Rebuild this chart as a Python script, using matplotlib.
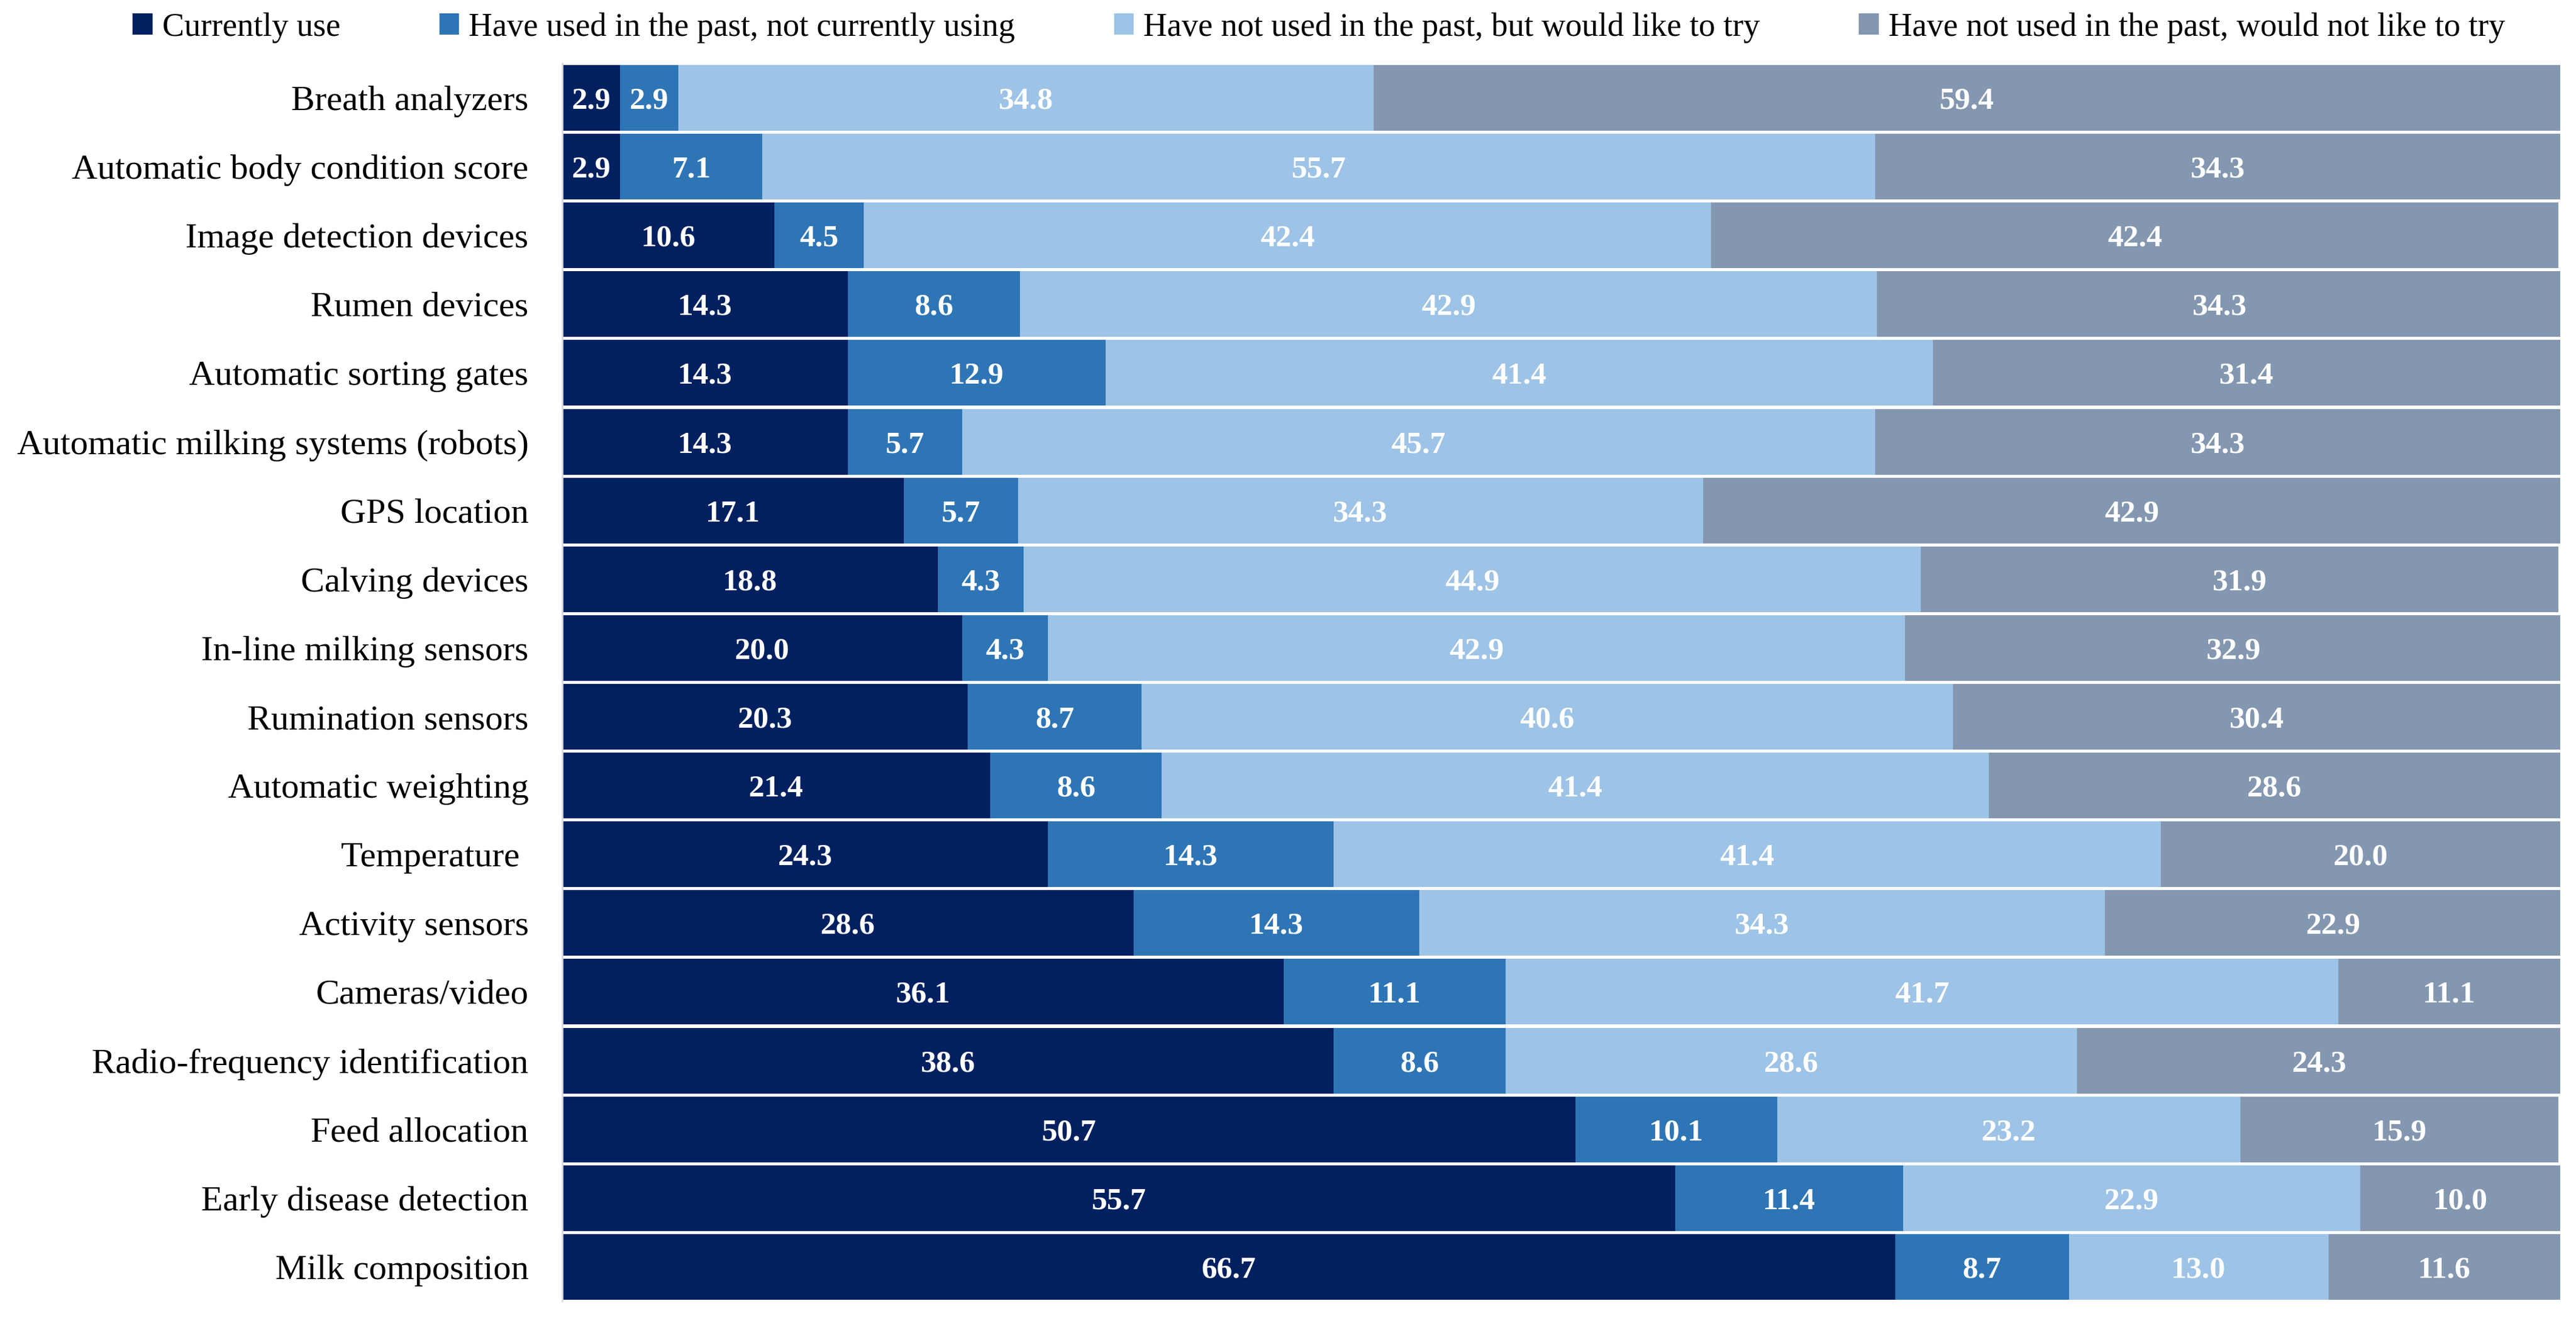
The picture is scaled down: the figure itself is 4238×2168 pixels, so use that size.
import numpy as np
import matplotlib
matplotlib.use('Agg')
import matplotlib.pyplot as plt

categories = ['Breath analyzers', 'Automatic body condition score', 'Image detection devices',
              'Rumen devices', 'Automatic sorting gates', 'Automatic milking systems (robots)',
              'GPS location', 'Calving devices', 'In-line milking sensors', 'Rumination sensors',
              'Automatic weighting', 'Temperature ', 'Activity sensors', 'Cameras/video',
              'Radio-frequency identification', 'Feed allocation', 'Early disease detection',
              'Milk composition']

currently_use = [2.9, 2.9, 10.6, 14.3, 14.3, 14.3, 17.1, 18.8, 20.0, 20.3, 21.4, 24.3, 28.6, 36.1, 38.6, 50.7, 55.7, 66.7]
used_past = [2.9, 7.1, 4.5, 8.6, 12.9, 5.7, 5.7, 4.3, 4.3, 8.7, 8.6, 14.3, 14.3, 11.1, 8.6, 10.1, 11.4, 8.7]
like_to_try = [34.8, 55.7, 42.4, 42.9, 41.4, 45.7, 34.3, 44.9, 42.9, 40.6, 41.4, 41.4, 34.3, 41.7, 28.6, 23.2, 22.9, 13.0]
not_like = [59.4, 34.3, 42.4, 34.3, 31.4, 34.3, 42.9, 31.9, 32.9, 30.4, 28.6, 20.0, 22.9, 11.1, 24.3, 15.9, 10.0, 11.6]

series_names = ['Currently use', 'Have used in the past, not currently using',
                'Have not used in the past, but would like to try',
                'Have not used in the past, would not like to try']
colors = ['#002060', '#2E75B6', '#9DC3E6', '#8497B0']

plt.rcParams['font.family'] = ['Liberation Serif', 'DejaVu Serif']

fig = plt.figure(figsize=(42.38, 21.68), dpi=100)
ax = fig.add_axes([0.2183, 0.0127, 0.7756, 0.9391])

y = np.arange(len(categories))
left = np.zeros(len(categories))
for vals, name, col in zip([currently_use, used_past, like_to_try, not_like], series_names, colors):
    vals = np.array(vals)
    bars = ax.barh(y, vals, left=left, height=0.955, color=col, label=name)
    for b, v in zip(bars, vals):
        ax.text(b.get_x() + b.get_width() / 2, b.get_y() + b.get_height() / 2, f'{v:.1f}',
                ha='center', va='center_baseline', color='white', fontsize=37, fontweight='bold')
    left += vals

ax.set_xlim(0, 100)
ax.set_ylim(len(categories) - 0.5, -0.5)
ax.set_yticks(y)
ax.set_yticklabels(categories, fontsize=42)
ax.tick_params(axis='y', length=0, pad=40)
ax.set_xticks([])
for s in ['top', 'right', 'bottom']:
    ax.spines[s].set_visible(False)
ax.spines['left'].set_color('#D9D9D9')
ax.spines['left'].set_linewidth(2)

fig.legend(loc='center', bbox_to_anchor=(0.512, 0.979), ncol=4, frameon=False, fontsize=39,
           handlelength=0.6, handleheight=0.6, handletextpad=0.3, columnspacing=3.0)

fig.savefig('out.png', dpi=100)
